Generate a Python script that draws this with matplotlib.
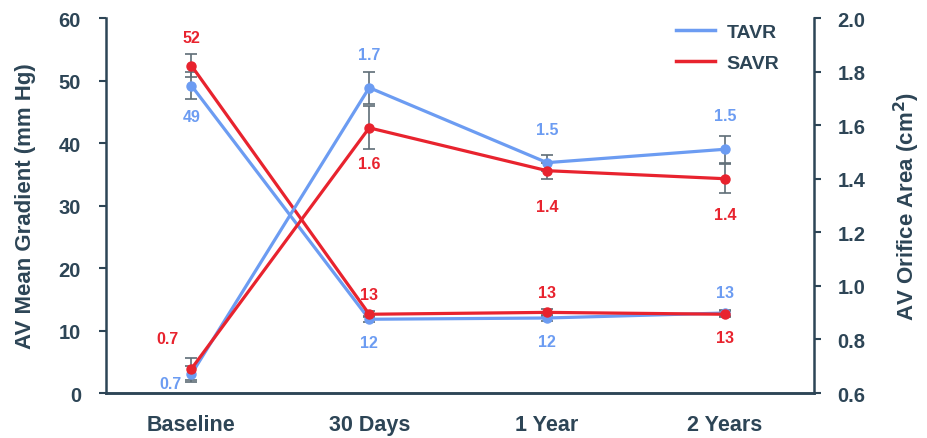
import matplotlib.pyplot as plt
import numpy as np

plt.rcParams['font.family'] = ['Liberation Sans', 'DejaVu Sans']
plt.rcParams['font.weight'] = 'bold'

DARK = '#2d4556'
BLUE = '#6c9cf2'
RED = '#e8232e'
ERR = '#5f6d77'

timepoints = ['Baseline', '30 Days', '1 Year', '2 Years']

# mean gradient (mm Hg), left axis
tavr_grad = [49.2, 11.8, 12.0, 12.8]
savr_grad = [52.4, 12.6, 12.9, 12.6]
tavr_grad_err = [2.1, 0.5, 0.5, 0.5]
savr_grad_err = [1.8, 0.5, 0.5, 0.5]

# effective orifice area (cm2), right axis
tavr_eoa = [0.67, 1.74, 1.46, 1.51]
savr_eoa = [0.69, 1.59, 1.43, 1.40]
tavr_eoa_err = [0.03, 0.06, 0.03, 0.05]
savr_eoa_err = [0.04, 0.08, 0.03, 0.054]

fig = plt.figure(figsize=(9.28, 4.39), dpi=100)
ax = fig.add_axes([0.1142, 0.1025, 0.7628, 0.8542])
ax2 = ax.twinx()
x = np.arange(len(timepoints))

def draw(axis, vals, errs, color):
    axis.errorbar(x, vals, yerr=errs, fmt='none', ecolor=ERR, elinewidth=1.2,
                  capsize=4, capthick=1.2, zorder=2)
    axis.plot(x, vals, color=color, lw=2.3, marker='o', ms=6.5, zorder=3)

draw(ax, tavr_grad, tavr_grad_err, BLUE)
draw(ax, savr_grad, savr_grad_err, RED)
draw(ax2, tavr_eoa, tavr_eoa_err, BLUE)
draw(ax2, savr_eoa, savr_eoa_err, RED)

def label(axis, xi, val, fmt, color, dx, dy):
    axis.annotate(format(val, fmt), (xi, val), xytext=(dx, dy),
                  textcoords='offset points', ha='center', va='center',
                  color=color, fontsize=11.5, fontweight='bold')

# gradient labels: TAVR below at first three points, above at the last
label(ax, 0, tavr_grad[0], '.0f', BLUE, 0, -22)
label(ax, 0, savr_grad[0], '.0f', RED, 0, 20)
for i in range(1, 4):
    if i < 3:
        label(ax, i, tavr_grad[i], '.0f', BLUE, 0, -17)
        label(ax, i, savr_grad[i], '.0f', RED, 0, 14)
    else:
        label(ax, i, tavr_grad[i], '.0f', BLUE, 0, 15)
        label(ax, i, savr_grad[i], '.0f', RED, 0, -17)

# orifice area labels
label(ax2, 0, tavr_eoa[0], '.1f', BLUE, -15, -7)
label(ax2, 0, savr_eoa[0], '.1f', RED, -17, 22)
for i in range(1, 4):
    label(ax2, i, tavr_eoa[i], '.1f', BLUE, 0, 24)
    label(ax2, i, savr_eoa[i], '.1f', RED, 0, -26)

ax.set_xlim(-0.48, 3.5)
ax.set_ylim(0, 60)
ax.set_yticks(range(0, 61, 10))
ax2.set_ylim(0.6, 2.0)
ax2.set_yticks(np.arange(0.6, 2.01, 0.2))
ax2.set_yticklabels([f'{v:.1f}' for v in np.arange(0.6, 2.01, 0.2)])

ax.set_xticks(x)
ax.set_xticklabels(timepoints)
ax.tick_params(axis='x', length=0, pad=15, labelsize=15.5, colors=DARK)
ax.tick_params(axis='y', length=5, width=1.5, labelsize=14.5, colors=DARK, pad=13)
ax2.tick_params(axis='y', length=5, width=1.5, labelsize=14.5, colors=DARK, pad=12)

for a in (ax, ax2):
    a.spines['top'].set_visible(False)
    for s in ('left', 'right', 'bottom'):
        a.spines[s].set_color(DARK)
        a.spines[s].set_linewidth(1.8)
ax.spines['right'].set_visible(False)
ax2.spines['left'].set_visible(False)

ax.set_ylabel('AV Mean Gradient (mm Hg)', fontsize=16, color=DARK,
              fontweight='bold', labelpad=16)
ax2.set_ylabel('AV Orifice Area (cm$^\\mathbf{2}$)', fontsize=16, color=DARK,
               fontweight='bold', labelpad=19)

handles = [plt.Line2D([], [], color=BLUE, lw=2.5),
           plt.Line2D([], [], color=RED, lw=2.5)]
leg = fig.legend(handles, ['TAVR', 'SAVR'], loc='upper left',
                 bbox_to_anchor=(0.72, 0.962), frameon=False, borderaxespad=0,
                 handlelength=2.0, handletextpad=0.6, labelspacing=0.7,
                 prop={'weight': 'bold', 'size': 14})
for t in leg.get_texts():
    t.set_color(DARK)

fig.savefig('out.png', dpi=100)
